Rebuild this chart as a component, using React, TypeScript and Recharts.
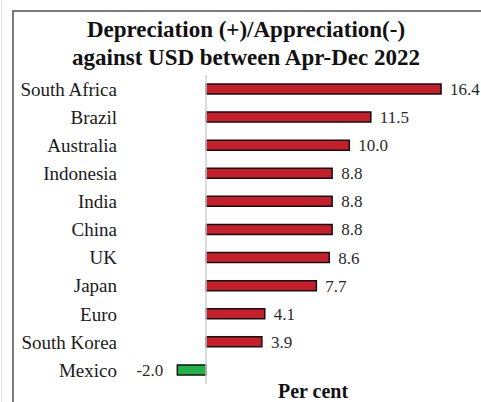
import React from 'react';
import { BarChart, Bar, XAxis, YAxis, Cell, LabelList, ReferenceLine } from 'recharts';

const categories = ['South Africa', 'Brazil', 'Australia', 'Indonesia', 'India', 'China', 'UK', 'Japan', 'Euro', 'South Korea', 'Mexico'];
const values = [16.4, 11.5, 10.0, 8.8, 8.8, 8.8, 8.6, 7.7, 4.1, 3.9, -2.0];
const titleLines = ['Depreciation (+)/Appreciation(-)', 'against USD between Apr-Dec 2022'];
const axisTitle = 'Per cent';

const data = categories.map((name, i) => ({ name, value: values[i] }));

const FONT = '"Liberation Serif", "Times New Roman", serif';
const RED = '#C61F2B';
const GREEN = '#22B24C';

const CategoryTick = (props: any) => {
  const { x, y, payload } = props;
  return (
    <text x={x} y={y} dy="0.355em" textAnchor="end" fontFamily={FONT} fontSize={19} fill="#1a1a1a">
      {payload.value}
    </text>
  );
};

const ValueLabel = (props: any) => {
  const { x, y, width, height, value } = props;
  const left = Math.min(x, x + width);
  const right = Math.max(x, x + width);
  const cy = y + height / 2;
  const neg = value < 0;
  return (
    <text
      x={neg ? left - 14 : right + 9}
      y={cy}
      dy="0.355em"
      textAnchor={neg ? 'end' : 'start'}
      fontFamily={FONT}
      fontSize={17}
      fill="#2a2a2a"
    >
      {Number(value).toFixed(1)}
    </text>
  );
};

export default function App() {
  return (
    <div style={{ position: 'absolute', left: 0, top: 0, width: 481, height: 402, background: '#fff', overflow: 'hidden' }}>
      <div style={{ position: 'absolute', left: 1, top: 0, width: 1, height: 402, background: '#e2e2e2' }} />
      <div
        style={{
          position: 'absolute',
          left: 12,
          top: 10,
          width: 500,
          height: 420,
          borderLeft: '2px solid #7a7a7a',
          borderTop: '2px solid #7a7a7a',
        }}
      />
      <div
        style={{
          position: 'absolute',
          left: 0,
          top: 16,
          width: 492,
          textAlign: 'center',
          fontFamily: FONT,
          fontWeight: 'bold',
          fontSize: 23,
          lineHeight: '28px',
          color: '#111',
        }}
      >
        {titleLines.map((t) => (
          <div key={t}>{t}</div>
        ))}
      </div>
      <div style={{ position: 'absolute', left: 0, top: 0 }}>
        <BarChart
          width={481}
          height={402}
          data={data}
          layout="vertical"
          margin={{ top: 75, right: 17, bottom: 18, left: 0 }}
        >
          <XAxis type="number" domain={[-6, 18]} hide />
          <YAxis
            type="category"
            dataKey="name"
            width={120}
            axisLine={false}
            tickLine={false}
            tickSize={0}
            tickMargin={3}
            tick={<CategoryTick />}
            interval={0}
          />
          <ReferenceLine x={0} stroke="#cfcfcf" strokeWidth={1.5} />
          <Bar dataKey="value" barSize={10} stroke="#111" strokeWidth={1.5} isAnimationActive={false}>
            {data.map((d) => (
              <Cell key={d.name} fill={d.value < 0 ? GREEN : RED} />
            ))}
            <LabelList dataKey="value" content={<ValueLabel />} />
          </Bar>
        </BarChart>
      </div>
      <div
        style={{
          position: 'absolute',
          left: 213,
          top: 379,
          width: 200,
          textAlign: 'center',
          fontFamily: FONT,
          fontWeight: 'bold',
          fontSize: 20,
          lineHeight: '24px',
          color: '#111',
        }}
      >
        {axisTitle}
      </div>
    </div>
  );
}
